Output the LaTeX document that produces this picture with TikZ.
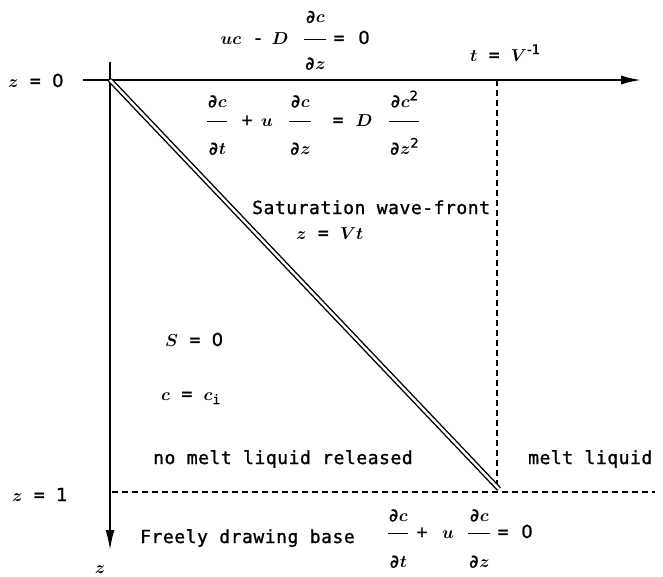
\documentclass[tikz,border=0pt]{standalone}
\usepackage{fontspec}
\setmainfont[LetterSpace=3,FakeBold=1.2]{DejaVu Sans Mono}
\newfontfamily\digfont[FakeBold=1.2]{DejaVu Sans}
\usetikzlibrary{arrows.meta}
\newcommand\vv[1]{\mbox{\boldmath$#1$}}
\newcommand\dg[1]{{\digfont #1}}
\newcommand\fr[4]{$\displaystyle{\hbox{#1\rule[-#3]{0pt}{#3}}\above 1.4pt\hbox{\rule{0pt}{#4}#2}}$}
\newcommand\sm[1]{{\fontsize{13}{13}\selectfont #1}}
\begin{document}
\begin{tikzpicture}[x=1pt,y=-1pt,
  lbl/.style={inner sep=0pt,font=\fontsize{18}{21}\selectfont},
  axis/.style={line width=1.8pt,-{Latex[length=20pt,width=9pt]}},
  guide/.style={line width=1.4pt,dash pattern=on 6pt off 4pt},
  front/.style={line width=1.4pt,double,double distance=2.4pt}]
\useasboundingbox (0,0) rectangle (663,576);
% axes and guides
\coordinate (xs) at (83,80);  \coordinate (xe) at (641,80);
\coordinate (zs) at (110,62); \coordinate (ze) at (110,550);
\coordinate (o)  at (110,80);
\coordinate (tv) at (497,80); \coordinate (tb) at (497,490);
\coordinate (bl) at (112,492); \coordinate (br) at (655,492);
\coordinate (fe) at (499,489);
\draw[axis] (xs) -- (xe);
\draw[axis] (zs) -- (ze);
\draw[guide] (tv) -- (tb);
\draw[guide] (bl) -- (br);
\draw[front] (o) -- (fe);
% left labels
\node[lbl,anchor=base west] (z0) at (8,87) {\vv{z} = \dg{0}};
\node[lbl,anchor=base west] (z1) at (12,501) {\vv{z} = \dg{1}};
\node[lbl,anchor=base] (zz) at (100,573) {\vv{z}};
% top boundary condition
\node[lbl,anchor=base] (e1a) at (231,44) {\vv{uc}};
\node[lbl,anchor=base] (e1b) at (258,44) {-};
\node[lbl,anchor=base] (e1c) at (280,44) {\vv{D}};
\node[lbl,anchor=base] (e1d) at (315,44) {\fr{∂\vv{c}}{∂\vv{z}}{12pt}{25pt}};
\node[lbl,anchor=base] (e1e) at (339,44) {=};
\node[lbl,anchor=base] (e1f) at (364,44) {\dg{0}};
\node[lbl,anchor=base west] (tV) at (470,61) {\vv{t} = \vv{V}\raisebox{7pt}{\sm{\dg{-1}}}};
% governing equation
\node[lbl,anchor=base] (e2a) at (217,126) {\fr{∂\vv{c}}{∂\vv{t}}{9.5pt}{28pt}};
\node[lbl,anchor=base] (e2b) at (247,126) {+};
\node[lbl,anchor=base] (e2c) at (267,126) {\vv{u}};
\node[lbl,anchor=base] (e2d) at (300,126) {\fr{∂\vv{c}}{∂\vv{z}}{9.5pt}{28pt}};
\node[lbl,anchor=base] (e2e) at (338,126) {=};
\node[lbl,anchor=base] (e2f) at (364,126) {\vv{D}};
\node[lbl,anchor=base] (e2g) at (404,126) {\fr{∂\vv{c}\raisebox{7pt}{\sm{\dg{2}}}}{∂\vv{z}\raisebox{7pt}{\sm{\dg{2}}}}{9.5pt}{28pt}};
% wave front
\node[lbl,anchor=base west] (sat) at (252,214) {Saturation wave-front};
\node[lbl,anchor=base west] (zvt) at (296,239) {\vv{z} = \vv{Vt}};
% region labels
\node[lbl,anchor=base west] (s0) at (165,346) {\vv{S} = \dg{0}};
\node[lbl,anchor=base west] (cci) at (161,400) {\vv{c} = \vv{c}\raisebox{-4pt}{\sm{i}}};
\node[lbl,anchor=base west] (nomelt) at (153,464) {no melt liquid released};
\node[lbl,anchor=base west] (melt) at (528,464) {melt liquid};
% base condition
\node[lbl,anchor=base west] (free) at (140,543) {Freely drawing base};
\node[lbl,anchor=base] (e3a) at (398,538) {\fr{∂\vv{c}}{∂\vv{t}}{7.5pt}{29pt}};
\node[lbl,anchor=base] (e3b) at (422,538) {+};
\node[lbl,anchor=base] (e3c) at (448,538) {\vv{u}};
\node[lbl,anchor=base] (e3d) at (479,538) {\fr{∂\vv{c}}{∂\vv{z}}{7.5pt}{29pt}};
\node[lbl,anchor=base] (e3e) at (503,538) {=};
\node[lbl,anchor=base] (e3f) at (527,538) {\dg{0}};
\end{tikzpicture}
\end{document}
